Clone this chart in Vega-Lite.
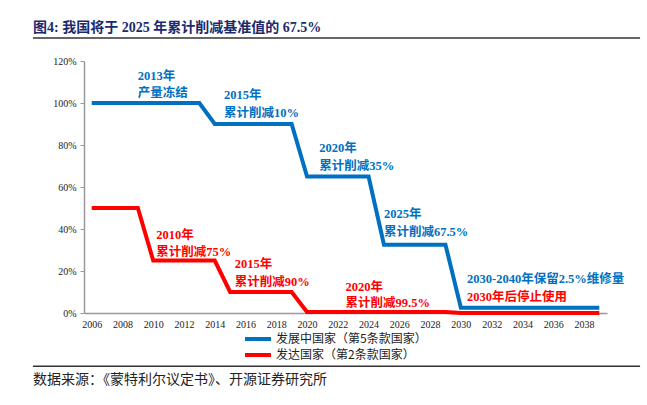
{
  "$schema": "https://vega.github.io/schema/vega-lite/v6.json",
  "width": 523,
  "height": 252,
  "autosize": {"type": "none"},
  "padding": {"left": 84, "top": 61, "right": 40, "bottom": 92},
  "background": "white",
  "title": {
    "text": "图4:  我国将于 2025 年累计削减基准值的 67.5%",
    "anchor": "start",
    "frame": "group",
    "dx": -51,
    "offset": 2,
    "font": "Liberation Serif, Noto Sans CJK SC",
    "fontSize": 14,
    "fontWeight": "bold",
    "color": "#1B2A6E"
  },
  "datasets": {
    "lines": [
      {"year": 2006, "value": 1.0, "series": "发展中国家（第5条款国家）"},
      {"year": 2007, "value": 1.0, "series": "发展中国家（第5条款国家）"},
      {"year": 2008, "value": 1.0, "series": "发展中国家（第5条款国家）"},
      {"year": 2009, "value": 1.0, "series": "发展中国家（第5条款国家）"},
      {"year": 2010, "value": 1.0, "series": "发展中国家（第5条款国家）"},
      {"year": 2011, "value": 1.0, "series": "发展中国家（第5条款国家）"},
      {"year": 2012, "value": 1.0, "series": "发展中国家（第5条款国家）"},
      {"year": 2013, "value": 1.0, "series": "发展中国家（第5条款国家）"},
      {"year": 2014, "value": 0.9, "series": "发展中国家（第5条款国家）"},
      {"year": 2015, "value": 0.9, "series": "发展中国家（第5条款国家）"},
      {"year": 2016, "value": 0.9, "series": "发展中国家（第5条款国家）"},
      {"year": 2017, "value": 0.9, "series": "发展中国家（第5条款国家）"},
      {"year": 2018, "value": 0.9, "series": "发展中国家（第5条款国家）"},
      {"year": 2019, "value": 0.9, "series": "发展中国家（第5条款国家）"},
      {"year": 2020, "value": 0.65, "series": "发展中国家（第5条款国家）"},
      {"year": 2021, "value": 0.65, "series": "发展中国家（第5条款国家）"},
      {"year": 2022, "value": 0.65, "series": "发展中国家（第5条款国家）"},
      {"year": 2023, "value": 0.65, "series": "发展中国家（第5条款国家）"},
      {"year": 2024, "value": 0.65, "series": "发展中国家（第5条款国家）"},
      {"year": 2025, "value": 0.325, "series": "发展中国家（第5条款国家）"},
      {"year": 2026, "value": 0.325, "series": "发展中国家（第5条款国家）"},
      {"year": 2027, "value": 0.325, "series": "发展中国家（第5条款国家）"},
      {"year": 2028, "value": 0.325, "series": "发展中国家（第5条款国家）"},
      {"year": 2029, "value": 0.325, "series": "发展中国家（第5条款国家）"},
      {"year": 2030, "value": 0.025, "series": "发展中国家（第5条款国家）"},
      {"year": 2031, "value": 0.025, "series": "发展中国家（第5条款国家）"},
      {"year": 2032, "value": 0.025, "series": "发展中国家（第5条款国家）"},
      {"year": 2033, "value": 0.025, "series": "发展中国家（第5条款国家）"},
      {"year": 2034, "value": 0.025, "series": "发展中国家（第5条款国家）"},
      {"year": 2035, "value": 0.025, "series": "发展中国家（第5条款国家）"},
      {"year": 2036, "value": 0.025, "series": "发展中国家（第5条款国家）"},
      {"year": 2037, "value": 0.025, "series": "发展中国家（第5条款国家）"},
      {"year": 2038, "value": 0.025, "series": "发展中国家（第5条款国家）"},
      {"year": 2039, "value": 0.025, "series": "发展中国家（第5条款国家）"},
      {"year": 2006, "value": 0.5, "series": "发达国家（第2条款国家）"},
      {"year": 2007, "value": 0.5, "series": "发达国家（第2条款国家）"},
      {"year": 2008, "value": 0.5, "series": "发达国家（第2条款国家）"},
      {"year": 2009, "value": 0.5, "series": "发达国家（第2条款国家）"},
      {"year": 2010, "value": 0.25, "series": "发达国家（第2条款国家）"},
      {"year": 2011, "value": 0.25, "series": "发达国家（第2条款国家）"},
      {"year": 2012, "value": 0.25, "series": "发达国家（第2条款国家）"},
      {"year": 2013, "value": 0.25, "series": "发达国家（第2条款国家）"},
      {"year": 2014, "value": 0.25, "series": "发达国家（第2条款国家）"},
      {"year": 2015, "value": 0.1, "series": "发达国家（第2条款国家）"},
      {"year": 2016, "value": 0.1, "series": "发达国家（第2条款国家）"},
      {"year": 2017, "value": 0.1, "series": "发达国家（第2条款国家）"},
      {"year": 2018, "value": 0.1, "series": "发达国家（第2条款国家）"},
      {"year": 2019, "value": 0.1, "series": "发达国家（第2条款国家）"},
      {"year": 2020, "value": 0.005, "series": "发达国家（第2条款国家）"},
      {"year": 2021, "value": 0.005, "series": "发达国家（第2条款国家）"},
      {"year": 2022, "value": 0.005, "series": "发达国家（第2条款国家）"},
      {"year": 2023, "value": 0.005, "series": "发达国家（第2条款国家）"},
      {"year": 2024, "value": 0.005, "series": "发达国家（第2条款国家）"},
      {"year": 2025, "value": 0.005, "series": "发达国家（第2条款国家）"},
      {"year": 2026, "value": 0.005, "series": "发达国家（第2条款国家）"},
      {"year": 2027, "value": 0.005, "series": "发达国家（第2条款国家）"},
      {"year": 2028, "value": 0.005, "series": "发达国家（第2条款国家）"},
      {"year": 2029, "value": 0.005, "series": "发达国家（第2条款国家）"},
      {"year": 2030, "value": 0.0, "series": "发达国家（第2条款国家）"},
      {"year": 2031, "value": 0.0, "series": "发达国家（第2条款国家）"},
      {"year": 2032, "value": 0.0, "series": "发达国家（第2条款国家）"},
      {"year": 2033, "value": 0.0, "series": "发达国家（第2条款国家）"},
      {"year": 2034, "value": 0.0, "series": "发达国家（第2条款国家）"},
      {"year": 2035, "value": 0.0, "series": "发达国家（第2条款国家）"},
      {"year": 2036, "value": 0.0, "series": "发达国家（第2条款国家）"},
      {"year": 2037, "value": 0.0, "series": "发达国家（第2条款国家）"},
      {"year": 2038, "value": 0.0, "series": "发达国家（第2条款国家）"},
      {"year": 2039, "value": 0.0, "series": "发达国家（第2条款国家）"}
    ],
    "blueNotes": [
      {"year": 2009.0, "value": 1.129, "text": "2013年"},
      {"year": 2009.0, "value": 1.046, "text": "产量冻结"},
      {"year": 2014.6, "value": 1.037, "text": "2015年"},
      {"year": 2014.6, "value": 0.951, "text": "累计削减10%"},
      {"year": 2020.8, "value": 0.784, "text": "2020年"},
      {"year": 2020.8, "value": 0.699, "text": "累计削减35%"},
      {"year": 2025.0, "value": 0.47, "text": "2025年"},
      {"year": 2025.0, "value": 0.384, "text": "累计削减67.5%"},
      {"year": 2030.4, "value": 0.16, "text": "2030-2040年保留2.5%维修量"}
    ],
    "redNotes": [
      {"year": 2010.2, "value": 0.373, "text": "2010年"},
      {"year": 2010.2, "value": 0.29, "text": "累计削减75%"},
      {"year": 2015.3, "value": 0.232, "text": "2015年"},
      {"year": 2015.3, "value": 0.148, "text": "累计削减90%"},
      {"year": 2022.5, "value": 0.122, "text": "2020年"},
      {"year": 2022.5, "value": 0.046, "text": "累计削减99.5%"},
      {"year": 2030.4, "value": 0.075, "text": "2030年后停止使用"}
    ]
  },
  "layer": [
    {
      "data": {"name": "lines"},
      "mark": {"type": "line", "strokeWidth": 4, "interpolate": "linear"},
      "encoding": {
        "x": {
          "field": "year",
          "type": "quantitative",
          "scale": {"domain": [2005.5, 2039.5], "nice": false, "zero": false},
          "axis": {
            "values": [2006, 2008, 2010, 2012, 2014, 2016, 2018, 2020, 2022, 2024, 2026, 2028, 2030, 2032, 2034, 2036, 2038],
            "tickCount": 40,
            "format": "d",
            "title": null,
            "grid": false,
            "ticks": false,
            "labelOverlap": false,
            "domainColor": "#999999",
            "domainWidth": 1.5,
            "labelFont": "Liberation Serif",
            "labelFontSize": 10,
            "labelColor": "#222222",
            "labelPadding": 6
          }
        },
        "y": {
          "field": "value",
          "type": "quantitative",
          "scale": {"domain": [0, 1.2], "nice": false},
          "axis": {
            "values": [0, 0.2, 0.4, 0.6, 0.8, 1.0, 1.2],
            "tickCount": 20,
            "format": ".0%",
            "title": null,
            "grid": false,
            "ticks": true,
            "tickSize": 4,
            "tickColor": "#999999",
            "domainColor": "#999999",
            "domainWidth": 1.5,
            "labelFont": "Liberation Serif",
            "labelFontSize": 10,
            "labelColor": "#222222",
            "labelPadding": 4
          }
        },
        "color": {
          "field": "series",
          "type": "nominal",
          "scale": {
            "domain": ["发展中国家（第5条款国家）", "发达国家（第2条款国家）"],
            "range": ["#0070C0", "#FF0000"]
          },
          "legend": {
            "orient": "none",
            "legendX": 167,
            "legendY": 271,
            "title": null,
            "symbolType": "M-2.6,0H2.6",
            "symbolStrokeWidth": 4,
            "symbolSize": 100,
            "labelFont": "Noto Sans CJK SC",
            "labelFontSize": 12,
            "labelColor": "#222222",
            "rowPadding": 0,
            "labelOffset": 11
          }
        }
      }
    },
    {
      "data": {"name": "blueNotes"},
      "mark": {"type": "text", "align": "left", "baseline": "middle", "font": "Liberation Serif, Noto Sans CJK SC", "fontSize": 12.5, "fontWeight": "bold", "color": "#0070C0"},
      "encoding": {
        "x": {"field": "year", "type": "quantitative"},
        "y": {"field": "value", "type": "quantitative"},
        "text": {"field": "text"}
      }
    },
    {
      "data": {"name": "redNotes"},
      "mark": {"type": "text", "align": "left", "baseline": "middle", "font": "Liberation Serif, Noto Sans CJK SC", "fontSize": 12.5, "fontWeight": "bold", "color": "#FF0000"},
      "encoding": {
        "x": {"field": "year", "type": "quantitative"},
        "y": {"field": "value", "type": "quantitative"},
        "text": {"field": "text"}
      }
    },
    {
      "data": {"values": [{}]},
      "mark": {"type": "rule", "color": "#333333", "strokeWidth": 1.5},
      "encoding": {
        "x": {"datum": 2002.18},
        "x2": {"datum": 2041.65},
        "y": {"datum": 1.3095}
      }
    },
    {
      "data": {"values": [{}]},
      "mark": {"type": "rule", "color": "#333333", "strokeWidth": 1.5},
      "encoding": {
        "x": {"datum": 2002.18},
        "x2": {"datum": 2041.65},
        "y": {"datum": -0.254}
      }
    },
    {
      "data": {"values": [{}]},
      "mark": {"type": "text", "align": "left", "baseline": "middle", "font": "Noto Sans CJK SC", "fontSize": 14, "color": "#222222", "text": "数据来源：《蒙特利尔议定书》、开源证券研究所"},
      "encoding": {
        "x": {"datum": 2002.18},
        "y": {"datum": -0.32}
      }
    }
  ],
  "config": {
    "view": {"stroke": null},
    "axis": {"labelOverlap": false}
  }
}
